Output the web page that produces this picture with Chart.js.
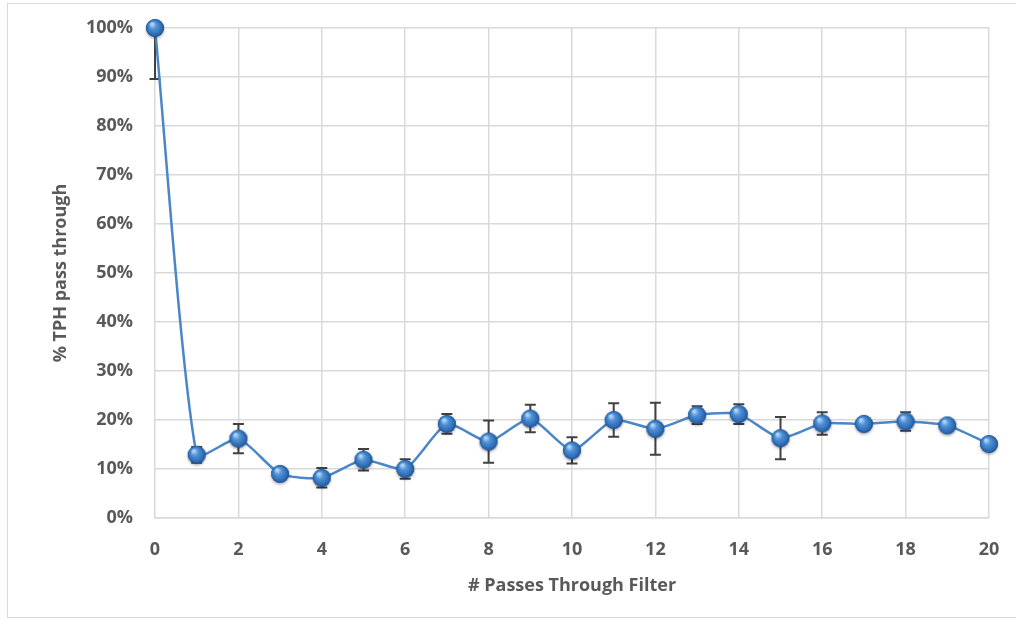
<!DOCTYPE html>
<html>
<head>
<meta charset="utf-8">
<script src="https://cdn.jsdelivr.net/npm/chart.js@4/dist/chart.umd.min.js"></script>
<style>
  html,body{margin:0;padding:0;background:#fff;}
  #wrap{position:relative;width:1016px;height:620px;}
  #frame{position:absolute;left:7px;top:3px;width:1020px;height:615px;border:1.5px solid #d9d9d9;box-sizing:border-box;pointer-events:none;}
</style>
</head>
<body>
<div id="wrap">
  <canvas id="c" width="1016" height="620"></canvas>
  <div id="frame"></div>
</div>
<script>
const passes = [0,1,2,3,4,5,6,7,8,9,10,11,12,13,14,15,16,17,18,19,20];
const tphPercent = [100,12.9,16.2,9.0,8.2,11.9,10.0,19.2,15.6,20.3,13.8,20.0,18.2,21.0,21.2,16.3,19.3,19.2,19.7,18.9,15.1];
const errPercent = [10.4,1.6,3.0,0.6,2.0,2.2,2.0,2.0,4.3,2.8,2.7,3.4,5.3,1.8,2.0,4.3,2.3,0.6,1.9,0.6,1.1];
const xTicks = [0,2,4,6,8,10,12,14,16,18,20];
const yTickLabels = ['0%','10%','20%','30%','40%','50%','60%','70%','80%','90%','100%'];

function makeSphere(r){
  const pad = 4;
  const s = (r+pad)*2;
  const cv = document.createElement('canvas');
  cv.width = s; cv.height = s;
  const g = cv.getContext('2d');
  const cx = s/2, cy = s/2;
  g.save();
  g.shadowColor = 'rgba(0,0,0,0.35)';
  g.shadowBlur = 3;
  g.shadowOffsetY = 1.5;
  g.beginPath(); g.arc(cx,cy,r,0,Math.PI*2);
  g.fillStyle = '#2e69ad'; g.fill();
  g.restore();
  const grad = g.createRadialGradient(cx-r*0.35, cy-r*0.45, r*0.1, cx, cy, r);
  grad.addColorStop(0,'#b3d6f7');
  grad.addColorStop(0.35,'#4f92d8');
  grad.addColorStop(0.8,'#2f6db5');
  grad.addColorStop(1,'#1f4f8e');
  g.beginPath(); g.arc(cx,cy,r,0,Math.PI*2);
  g.fillStyle = grad; g.fill();
  return cv;
}
const sphere = makeSphere(9);

const errorBars = {
  id:'errorBars',
  beforeDatasetsDraw(chart){
    const ctx = chart.ctx, xs = chart.scales.x, ys = chart.scales.y, a = chart.chartArea;
    ctx.save();
    ctx.beginPath(); ctx.rect(a.left-10, a.top, a.right-a.left+20, a.bottom-a.top); ctx.clip();
    ctx.strokeStyle = '#404040'; ctx.lineWidth = 2;
    passes.forEach((p,i)=>{
      const x = xs.getPixelForValue(p);
      const yt = ys.getPixelForValue(tphPercent[i]+errPercent[i]);
      const yb = ys.getPixelForValue(tphPercent[i]-errPercent[i]);
      ctx.beginPath();
      ctx.moveTo(x,yt); ctx.lineTo(x,yb);
      ctx.moveTo(x-5.5,yt); ctx.lineTo(x+5.5,yt);
      ctx.moveTo(x-5.5,yb); ctx.lineTo(x+5.5,yb);
      ctx.stroke();
    });
    ctx.restore();
  }
};

const tickFont = {family:'"Open Sans", sans-serif', size:18, weight:'bold'};
new Chart(document.getElementById('c'), {
  type:'line',
  data:{
    datasets:[{
      data: passes.map((p,i)=>({x:p,y:tphPercent[i]})),
      borderColor:'#4a86c8',
      borderWidth:2.5,
      tension:0.2,
      clip:false,
      pointStyle:sphere,
      pointRadius:9,
      pointHoverRadius:9,
      fill:false
    }]
  },
  options:{
    responsive:false,
    animation:false,
    events:[],
    layout:{padding:{left:8,top:28,right:27,bottom:9}},
    plugins:{legend:{display:false},tooltip:{enabled:false}},
    scales:{
      x:{
        type:'linear', min:0, max:20,
        afterBuildTicks(s){ s.ticks = xTicks.map(v=>({value:v})); },
        afterFit(s){ s.height = 93; s.paddingLeft = 0; s.paddingRight = 0; },
        grid:{color:'#d9d9d9', lineWidth:1.5, drawTicks:false},
        border:{color:'#d9d9d9', width:1.5},
        ticks:{color:'#595959', font:tickFont, padding:21, maxRotation:0},
        title:{display:true, text:'# Passes Through Filter', color:'#595959', font:tickFont, padding:{top:0,bottom:14}}
      },
      y:{
        type:'linear', min:0, max:100,
        afterBuildTicks(s){ s.ticks = yTickLabels.map((t,i)=>({value:i*10})); },
        afterFit(s){ s.width = 147; s.paddingTop = 0; s.paddingBottom = 0; },
        grid:{color:'#d9d9d9', lineWidth:1.5, drawTicks:false},
        border:{display:false},
        ticks:{color:'#595959', font:tickFont, padding:22, callback:(v,i)=>yTickLabels[i]},
        title:{display:true, text:'% TPH pass through', color:'#595959', font:tickFont, padding:{top:42,bottom:0}}
      }
    }
  },
  plugins:[errorBars]
});
</script>
</body>
</html>
